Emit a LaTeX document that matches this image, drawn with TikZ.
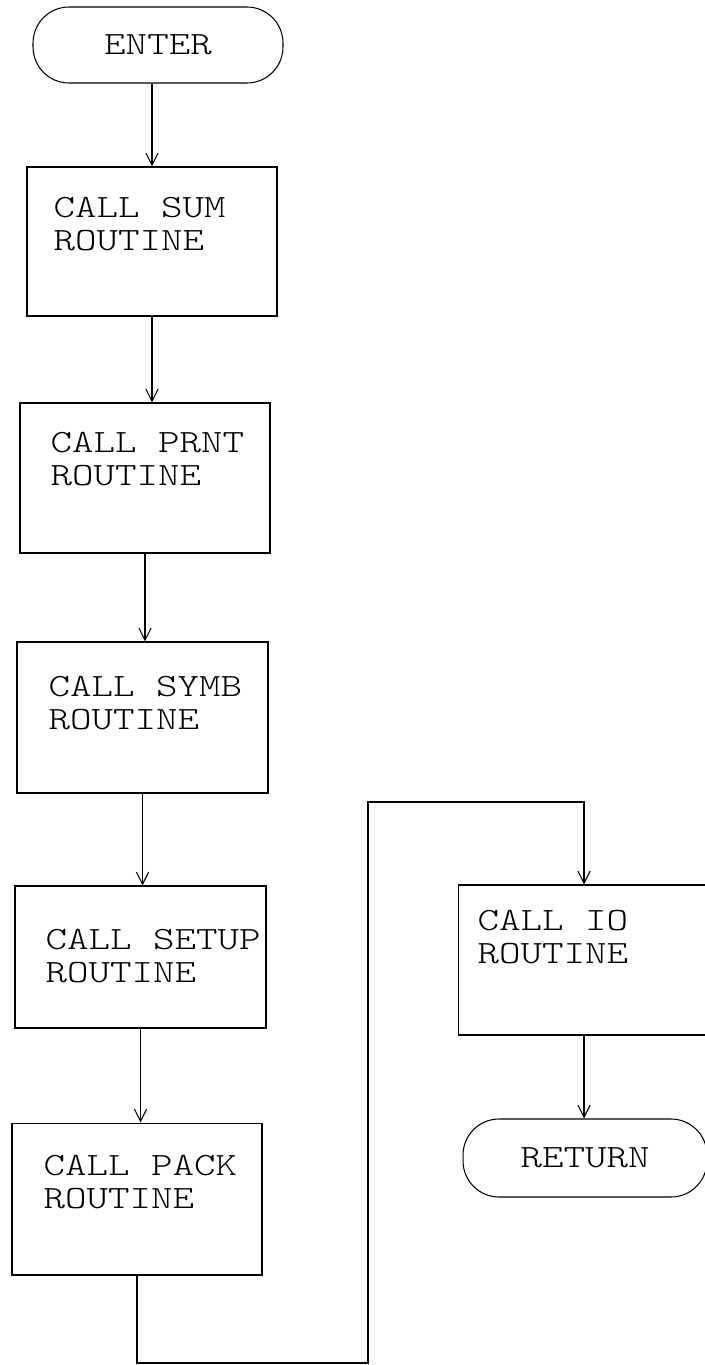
\documentclass[tikz,border=0pt]{standalone}
\usepackage{fontspec}
\usepackage{tikz}
\usetikzlibrary{arrows.meta,positioning}
\newfontfamily\typewr[FakeStretch=1.26]{lmmonolt10-regular.otf}

\begin{document}
\begin{tikzpicture}[x=.02cm,y=.02cm,line width=.6pt,>={Straight Barb[length=7pt,width=7pt]},
  proc/.style={draw,inner sep=0pt,minimum width=5cm,minimum height=3cm},
  term/.style={draw,rounded corners=.72cm,inner sep=0pt,minimum width=5cm,minimum height=1.52cm,
    font=\fontsize{18.5}{18.6}\selectfont\typewr},
  txt/.style={anchor=north west,inner sep=0pt,align=left,font=\fontsize{18.5}{18.6}\selectfont\typewr},
  flow/.style={->}]
\useasboundingbox (0,0) rectangle (704,-1365);
% main column
\node[term] (enter) at (158,-45) {ENTER};
\node[proc,minimum height=2.98cm] (sum) at (152,-241.5) {};
\node[txt] (sumtxt) at (53,-197) {CALL SUM\\ROUTINE};
\node[proc] (prnt) at (145,-478) {};
\node[txt] (prnttxt) at (50,-432) {CALL PRNT\\ROUTINE};
\node[proc,minimum width=5.02cm,minimum height=3.02cm] (symb) at (142.5,-717.5) {};
\node[txt] (symbtxt) at (48,-676) {CALL SYMB\\ROUTINE};
\node[proc,minimum width=5.02cm,minimum height=2.84cm] (setup) at (140.5,-957) {};
\node[txt] (setuptxt) at (45,-929) {CALL SETUP\\ROUTINE};
\node[proc,minimum height=3.04cm] (pack) at (137,-1199) {};
\node[txt] (packtxt) at (43,-1155) {CALL PACK\\ROUTINE};
% right column
\node[proc,minimum width=5.04cm] (io) at (584,-960) {};
\node[txt] (iotxt) at (477,-910) {CALL IO\\ROUTINE};
\node[term,minimum width=4.88cm,minimum height=1.56cm] (ret) at (585,-1158) {RETURN};
% connectors
\draw[flow] (sum.north |- enter.south) -- (sum);
\draw[flow] (sum) -- (sum |- prnt.north);
\draw[flow] (prnt) -- (prnt |- symb.north);
\draw[flow] (symb) -- (symb |- setup.north);
\draw[flow] (setup) -- (setup |- pack.north);
\coordinate (low) at (368,-1363);
\coordinate (high) at (368,-802);
\draw[flow] (pack) -- (pack |- low) -| (high) -| (io);
\draw[flow] (io) -- (io |- ret.north);
\end{tikzpicture}
\end{document}
